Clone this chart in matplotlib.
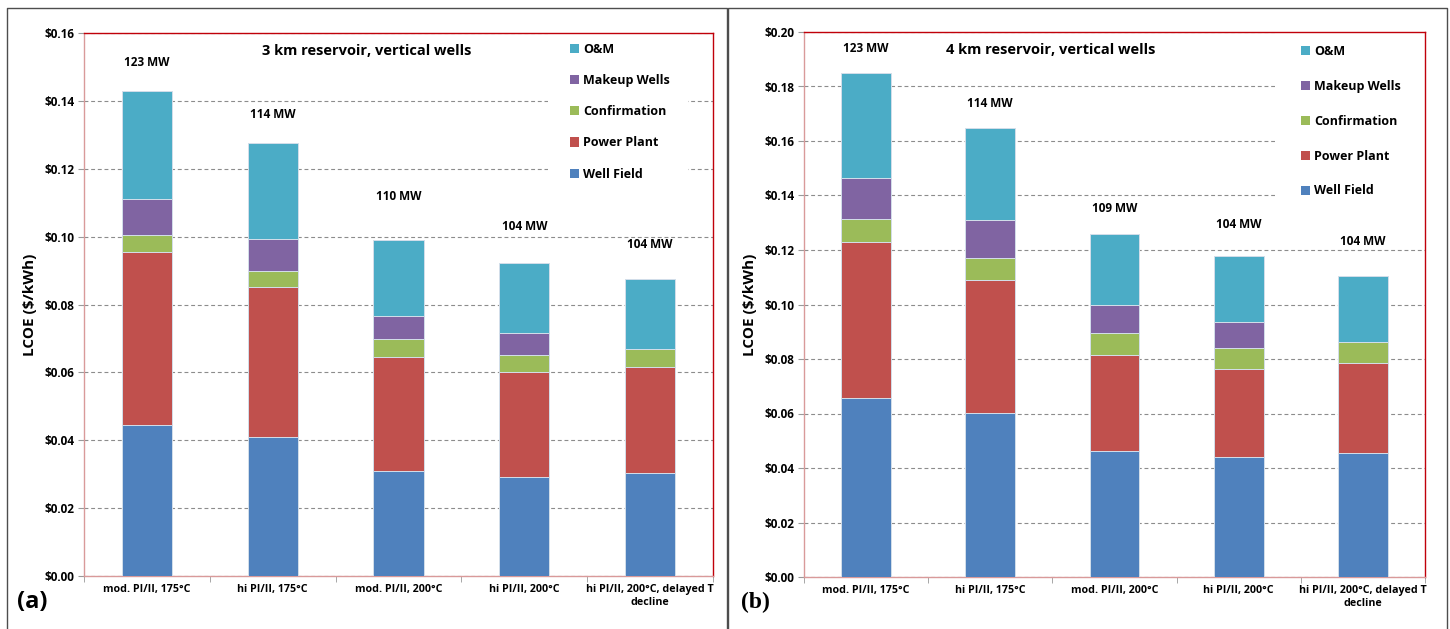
import matplotlib
matplotlib.use("Agg")
import matplotlib.pyplot as plt
from matplotlib.patches import Rectangle
from matplotlib.lines import Line2D
from matplotlib.ticker import FuncFormatter, MultipleLocator, FixedLocator
import numpy as np

plt.rcParams['font.family'] = ['Open Sans', 'DejaVu Sans']
plt.rcParams['font.weight'] = 'bold'

scenarios = ["mod. PI/II, 175°C", "hi PI/II, 175°C", "mod. PI/II, 200°C",
             "hi PI/II, 200°C", "hi PI/II, 200°C, delayed T\ndecline"]
components = ["Well Field", "Power Plant", "Confirmation", "Makeup Wells", "O&M"]
colors = ["#4F81BD", "#C0504D", "#9BBB59", "#8064A2", "#4BACC6"]

# 3 km reservoir LCOE components ($/kWh)
well_field_3km   = [0.0444, 0.0409, 0.0310, 0.0291, 0.0303]
power_plant_3km  = [0.0510, 0.0442, 0.0336, 0.0311, 0.0314]
confirmation_3km = [0.0051, 0.0049, 0.0051, 0.0049, 0.0051]
makeup_3km       = [0.0105, 0.0094, 0.0069, 0.0064, 0.0000]
om_3km           = [0.0320, 0.0282, 0.0224, 0.0206, 0.0208]
mw_3km           = [123, 114, 110, 104, 104]

# 4 km reservoir LCOE components ($/kWh)
well_field_4km   = [0.0656, 0.0601, 0.0464, 0.0439, 0.0456]
power_plant_4km  = [0.0575, 0.0490, 0.0351, 0.0323, 0.0328]
confirmation_4km = [0.0082, 0.0080, 0.0079, 0.0079, 0.0078]
makeup_4km       = [0.0153, 0.0140, 0.0103, 0.0096, 0.0000]
om_4km           = [0.0385, 0.0337, 0.0261, 0.0242, 0.0244]
mw_4km           = [123, 114, 109, 104, 104]

W, H = 1450, 629
fig = plt.figure(figsize=(W / 100, H / 100), dpi=100)


def px_rect(x0, y0, x1, y1):
    return [x0 / W, 1 - y1 / H, (x1 - x0) / W, (y1 - y0) / H]


def panel(rect, series, mw, ymax, title, title_xy, label_gap, legend_box,
          legend_anchor, legend_spacing, tag, tag_font, tag_xy):
    ax = fig.add_axes(rect)
    x = np.arange(len(scenarios))
    bottom = np.zeros(len(scenarios))
    handles = []
    for vals, name, col in zip(series, components, colors):
        vals = np.asarray(vals)
        ax.bar(x, vals, width=0.4, bottom=bottom, color=col,
               edgecolor="#D3DEEA", linewidth=0.7, zorder=3)
        bottom += vals
        handles.append(Rectangle((0, 0), 1, 1, facecolor=col, edgecolor='none'))
    totals = bottom

    for xi, tot, m, gap in zip(x, totals, mw, label_gap):
        ax.text(xi, tot + gap, f"{m} MW", ha='center', va='center',
                fontsize=8.5, fontweight='bold', zorder=5)

    ax.set_xlim(-0.5, len(scenarios) - 0.5)
    ax.set_ylim(0, ymax)
    ax.yaxis.set_major_locator(MultipleLocator(0.02))
    ax.yaxis.set_major_formatter(FuncFormatter(lambda v, p: f"${v:.2f}"))
    ax.grid(axis='y', color='#8C8C8C', linestyle=(0, (3.5, 2.5)), linewidth=0.8, zorder=0)
    ax.set_axisbelow(True)

    ax.set_xticks(x)
    ax.set_xticklabels(scenarios, fontsize=7.7, fontweight='bold')
    for lab in ax.get_xticklabels():
        lab.set_multialignment('center')
    ax.xaxis.set_minor_locator(FixedLocator(np.arange(-0.5, len(scenarios), 1.0)))
    ax.tick_params(axis='x', which='major', length=0, pad=6)
    ax.tick_params(axis='x', which='minor', length=4, color='#999999')
    ax.tick_params(axis='y', length=4, color='#999999', labelsize=8.5, pad=3)
    for lab in ax.get_yticklabels():
        lab.set_fontweight('bold')

    ax.set_ylabel("LCOE ($/kWh)", fontsize=11, fontweight='bold', labelpad=5)

    for side in ('top', 'right'):
        ax.spines[side].set_color('#C0000A')
        ax.spines[side].set_linewidth(1.0)
    for side in ('left', 'bottom'):
        ax.spines[side].set_color('#D99A9A')
        ax.spines[side].set_linewidth(1.0)

    ax.text(title_xy[0], title_xy[1], title, transform=ax.transAxes, fontsize=10.5,
            fontweight='bold', ha='center', va='center', zorder=5)

    # white backing behind legend hides the grid
    lx0, ly0, lx1, ly1 = legend_box
    ax.add_patch(Rectangle((lx0, ly0), lx1 - lx0, ly1 - ly0, transform=ax.transAxes,
                           facecolor='white', edgecolor='none', zorder=1))
    ax.legend(handles[::-1], components[::-1], loc='upper left',
              bbox_to_anchor=legend_anchor, frameon=False,
              prop={'weight': 'bold', 'size': 9}, handlelength=0.75,
              handleheight=0.75, handletextpad=0.3, labelspacing=legend_spacing,
              borderaxespad=0, borderpad=0)

    fig.text(tag_xy[0] / W, 1 - tag_xy[1] / H, tag, fontsize=17, fontweight='bold',
             family=tag_font, ha='left', va='center')
    return ax


ax1 = panel(px_rect(84, 33, 713, 576),
            [well_field_3km, power_plant_3km, confirmation_3km, makeup_3km, om_3km],
            mw_3km, 0.16, "3 km reservoir, vertical wells",
            ((367 - 84) / 629, 1 - (51 - 33) / 543),
            [0.0082, 0.0085, 0.0127, 0.0110, 0.0102],
            ((548 - 84) / 629, 1 - (205 - 33) / 543, (688 - 84) / 629, 1.0),
            ((570 - 84) / 629, 1 - (43 - 33) / 543), 1.45,
            "(a)", ['Open Sans', 'DejaVu Sans'], (17, 602))

ax2 = panel(px_rect(804, 32, 1425, 577),
            [well_field_4km, power_plant_4km, confirmation_4km, makeup_4km, om_4km],
            mw_4km, 0.20, "4 km reservoir, vertical wells",
            ((1051 - 804) / 621, 1 - (50 - 32) / 545),
            [0.0087, 0.0088, 0.0096, 0.0116, 0.0127],
            ((1275 - 804) / 621, 1 - (225 - 32) / 545, 1.0, 1.0),
            ((1301 - 804) / 621, 1 - (45 - 32) / 545), 1.75,
            "(b)", ['Liberation Serif', 'DejaVu Serif'], (741, 602))

# outer panel frames
for x0, x1 in ((7, 727), (728, 1447)):
    xs = [x0 / W, x0 / W, x1 / W, x1 / W]
    ys = [-0.02, 1 - 8 / H, 1 - 8 / H, -0.02]
    fig.add_artist(Line2D(xs, ys, color='#4D4D4D', linewidth=1.0))

fig.savefig("out.png", dpi=100)
